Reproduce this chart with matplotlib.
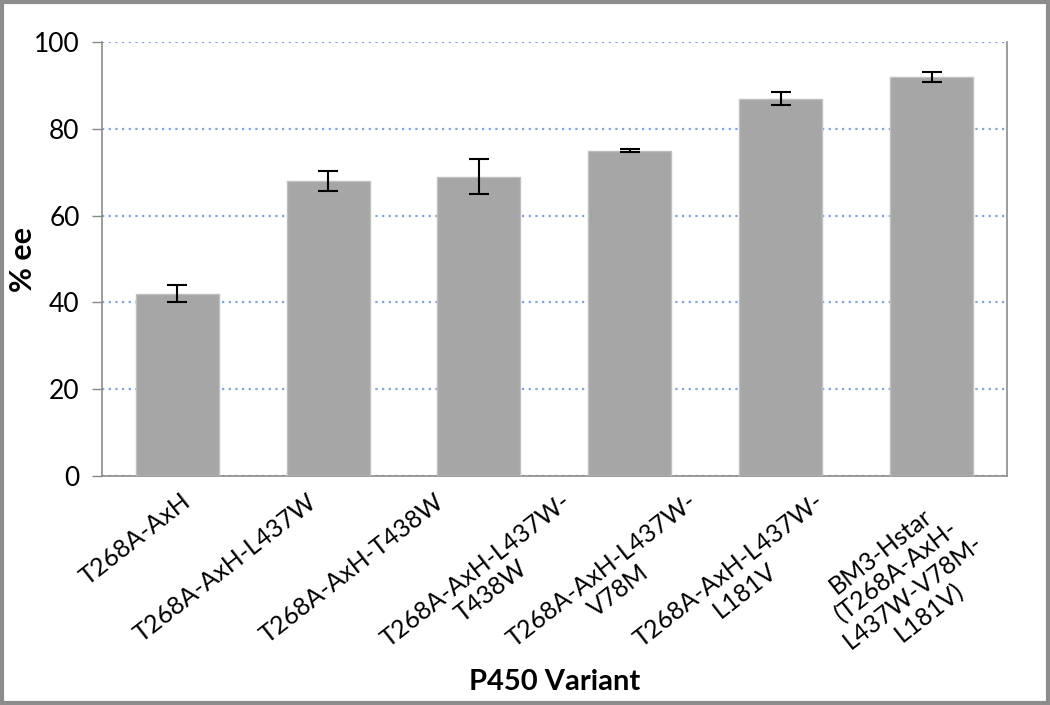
import matplotlib
matplotlib.use("Agg")
import matplotlib.pyplot as plt
import numpy as np
from matplotlib.patches import Rectangle

# Data
values = [42, 68, 69, 75, 87, 92]
errors = [2.0, 2.3, 4.0, 0.4, 1.5, 1.2]
tick_labels = ["T268A-AxH", "T268A-AxH-L437W", "T268A-AxH-T438W",
               "T268A-AxH-L437W-\nT438W", "T268A-AxH-L437W-\nV78M",
               "T268A-AxH-L437W-\nL181V",
               "BM3-Hstar\n(T268A-AxH-\nL437W-V78M-\nL181V)"]
yticks = [0, 20, 40, 60, 80, 100]

plt.rcParams['font.family'] = ['Lato', 'DejaVu Sans']

fig = plt.figure(figsize=(10.5, 7.05), dpi=100)
ax = fig.add_axes([0.097, 0.325, 0.862, 0.615])

x = np.arange(len(values))
ax.bar(x, values, width=0.55, color='#A6A6A6', edgecolor='#BFBFBF',
       linewidth=1.0, zorder=3)
ax.errorbar(x, values, yerr=errors, fmt='none', ecolor='black',
            elinewidth=1.5, capsize=7, capthick=1.5, zorder=4)

ax.set_xlim(-0.5, len(values) - 0.5)
ax.set_ylim(0, 100)
ax.set_yticks(yticks)
ax.tick_params(axis='y', labelsize=19, length=7, width=1, color='#888888',
               pad=9, direction='out')
ax.yaxis.grid(True, linestyle=(0, (1, 2)), color='#7FA3E0', linewidth=1.6,
              zorder=0)
ax.set_axisbelow(True)

for side in ['left', 'right', 'bottom']:
    ax.spines[side].set_color('#8C8C8C')
    ax.spines[side].set_linewidth(1.2)
ax.spines['top'].set_visible(False)

# Category labels (7 labels spread across the axis)
label_pos = np.linspace(0.02, 5.06, len(tick_labels))
ax.set_xticks(label_pos)
ax.set_xticklabels(tick_labels, rotation=38, ha='right', va='top',
                   rotation_mode='anchor', multialignment='center',
                   fontsize=18, linespacing=1.15)
ax.tick_params(axis='x', length=0, pad=10)

ax.set_ylabel('% ee', fontsize=22, fontweight='bold')
ax.yaxis.set_label_coords(-0.072, 0.5)
ax.set_xlabel('P450 Variant', fontsize=21, fontweight='bold')
ax.xaxis.set_label_coords(0.5, -0.445)

# Outer frame
fig.patches.append(Rectangle((0.002, 0.003), 0.996, 0.994,
                             transform=fig.transFigure, fill=False,
                             edgecolor='#8C8C8C', linewidth=3))

fig.savefig('out.png', dpi=100)
